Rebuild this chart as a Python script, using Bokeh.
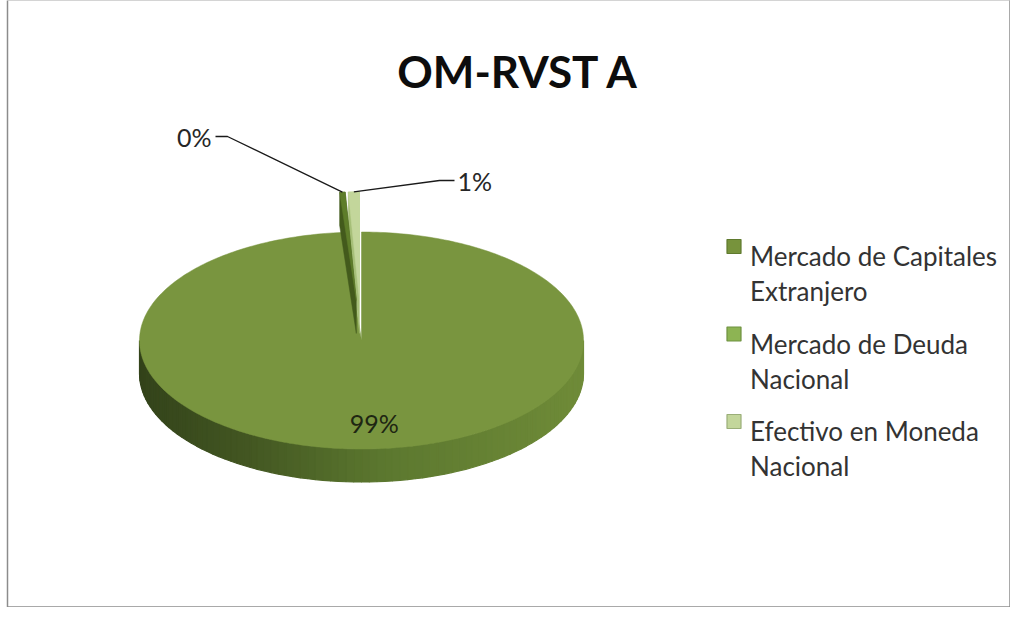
import math
from bokeh.plotting import figure
from bokeh.models import Range1d, ColumnDataSource
from bokeh.core.properties import value
from bokeh.embed import file_html
from bokeh.resources import INLINE

# ---------------- data ----------------
title = "OM-RVST A"
categories = ["Mercado de Capitales Extranjero", "Mercado de Deuda Nacional", "Efectivo en Moneda Nacional"]
legend_lines = [["Mercado de Capitales", "Extranjero"],
                ["Mercado de Deuda", "Nacional"],
                ["Efectivo en Moneda", "Nacional"]]
shares = [98.8, 0.4, 0.8]
labels = ["99%", "0%", "1%"]
colors = ["#77933C", "#8DB453", "#C3D69B"]
exploded = [False, True, True]

# ---------------- layout / style ----------------
W, H = 1010, 607
FONT = "Lato"
CX, CY, RX, RY, DEPTH = 369.0, 348.0, 222.0, 108.5, 33.0
EXPLODE = 0.37
top_shades = ["#79953F", "#5E7D2A", "#C3D69B"]
side_shades = [None, "#435A1C", "#A6BF78"]

p = figure(width=W, height=H, x_range=Range1d(8, 8 + W), y_range=Range1d(8 + H, 8),
           output_backend="svg", toolbar_location=None, min_border=0,
           x_axis_location=None, y_axis_location=None)
p.grid.visible = False
p.outline_line_color = None
p.background_fill_color = "white"
p.border_fill_color = "white"

# chart border
p.multi_line(xs=[[15, 15, 1017.5], [15, 1017.5], [1017.5, 1017.5]],
             ys=[[614.5, 7.5, 7.5], [614.5, 614.5], [7.5, 614.5]],
             line_color="#8C8C8C", line_width=1.5)


def proj(theta, f, dx=0.0, dy=0.0):
    t = math.radians(theta)
    return CX + f * RX * math.sin(t) + dx, CY - f * RY * math.cos(t) + dy


total = sum(shares)
starts, ends = [], []
acc = 0.0
for s in shares:
    starts.append(acc / total * 360.0)
    acc += s
    ends.append(acc / total * 360.0)


def arc_pts(a0, a1, dx=0.0, dy=0.0, step=1.0):
    n = max(2, int(abs(a1 - a0) / step) + 2)
    return [proj(a0 + (a1 - a0) * i / (n - 1), 1.0, dx, dy) for i in range(n)]


def mix(c1, c2, t):
    a = [int(c1[i:i + 2], 16) for i in (1, 3, 5)]
    b = [int(c2[i:i + 2], 16) for i in (1, 3, 5)]
    return "#%02x%02x%02x" % tuple(int(round(a[k] + (b[k] - a[k]) * t)) for k in range(3))


grad = [(0.0, "#6F8B38"), (0.45, "#5C782F"), (0.75, "#435722"), (1.0, "#33431A")]


def grad_color(t):
    for i in range(len(grad) - 1):
        t0, c0 = grad[i]
        t1, c1 = grad[i + 1]
        if t <= t1:
            return mix(c0, c1, (t - t0) / (t1 - t0))
    return grad[-1][1]


# ---- side of the big slice (front half) ----
sx, sy, sc = [], [], []
a = 90.0
step = 2.0
while a < 270.0 - 1e-9:
    a2 = min(a + step, 270.0)
    x1, y1 = proj(a, 1.0)
    x2, y2 = proj(a2, 1.0)
    sx.append([x1, x2, x2, x1])
    sy.append([y1, y2, y2 + DEPTH, y1 + DEPTH])
    xm = (x1 + x2) / 2.0
    sc.append(grad_color(1.0 - (xm - (CX - RX)) / (2 * RX)))
    a = a2
p.patches(xs=sx, ys=sy, fill_color=sc, line_color=sc, line_width=1.2)

# ---- top face of the big slice ----
for i in range(len(shares)):
    if exploded[i]:
        continue
    pts = [(CX, CY)] + arc_pts(starts[i], ends[i])
    p.patch([q[0] for q in pts], [q[1] for q in pts], fill_color=top_shades[i],
            line_color=top_shades[i], line_width=0.5)


def hull(points):
    pts = sorted(set(points))
    if len(pts) <= 2:
        return pts

    def cross(o, a_, b_):
        return (a_[0] - o[0]) * (b_[1] - o[1]) - (a_[1] - o[1]) * (b_[0] - o[0])
    lower, upper = [], []
    for q in pts:
        while len(lower) >= 2 and cross(lower[-2], lower[-1], q) <= 0:
            lower.pop()
        lower.append(q)
    for q in reversed(pts):
        while len(upper) >= 2 and cross(upper[-2], upper[-1], q) <= 0:
            upper.pop()
        upper.append(q)
    return lower[:-1] + upper[:-1]


# ---- exploded small slices ----
small = [i for i in range(len(shares)) if exploded[i]]
geo = {}
for i in small:
    mid = (starts[i] + ends[i]) / 2.0
    dx = EXPLODE * RX * math.sin(math.radians(mid))
    dy = -EXPLODE * RY * math.cos(math.radians(mid))
    tip = (CX + dx, CY + dy)
    top = [tip] + arc_pts(starts[i], ends[i], dx, dy, step=0.3)
    bot = [(q[0], q[1] + DEPTH) for q in top]
    geo[i] = (top, hull(top + bot), mid, dx, dy)

for i in reversed(small):
    top, h, mid, dx, dy = geo[i]
    p.patch([q[0] for q in h], [q[1] for q in h], fill_color=side_shades[i],
            line_color=side_shades[i], line_width=0.5)
for i in small:
    top, h, mid, dx, dy = geo[i]
    p.patch([q[0] for q in top], [q[1] for q in top], fill_color=top_shades[i],
            line_color=top_shades[i], line_width=0.5)

# ---- data labels ----
big = 0
mid_big = (starts[big] + ends[big]) / 2.0
lx, ly = proj(mid_big, 0.68)
p.text(x=[lx + 7], y=[ly + 9], text=[labels[big]], text_font=value(FONT),
       text_font_size="25px", text_color="#1E2612", text_align="center",
       text_baseline="alphabetic")

# leader lines + outside labels
label_pos = {1: (235.0, 144.0, 223.0, 219.0, "right"), 2: (447.0, 188.0, 462.0, 465.0, "left")}
for i in small:
    top, h, mid, dx, dy = geo[i]
    ax, ay = proj(mid, 1.0, dx, dy)
    bx, by, ex, tx, al = label_pos[i]
    p.line([ax, bx, ex], [ay, by, by], line_color="#1A1A1A", line_width=1.3)
    p.text(x=[tx], y=[by], text=[labels[i]], text_font=value(FONT), text_font_size="25px",
           text_color="#262626", text_align=al, text_baseline="alphabetic")

# ---- title ----
p.text(x=[526], y=[78], text=[title], text_font=value(FONT), text_font_size="44px",
       text_font_style="bold", text_color="#0D0D0D", text_align="center",
       text_baseline="alphabetic")

# ---- legend ----
LEG_X, LEG_Y0, LEG_DY, LINE_DY = 741.5, 254.0, 87.5, 35.0
leg_src = ColumnDataSource(dict(
    x=[LEG_X] * len(categories),
    y=[LEG_Y0 + k * LEG_DY for k in range(len(categories))],
    c=colors,
    lc=["#5F7A2E", "#6E9140", "#9AAE78"]))
p.scatter(x="x", y="y", source=leg_src, marker="square", size=14,
          fill_color="c", line_color="lc", line_width=1.2)
tx, ty, tt = [], [], []
for k, lines in enumerate(legend_lines):
    for j, t in enumerate(lines):
        tx.append(LEG_X + 16)
        ty.append(LEG_Y0 + k * LEG_DY + 9.5 + j * LINE_DY)
        tt.append(t)
p.text(x=tx, y=ty, text=tt, text_font=value(FONT), text_font_size="26px",
       text_color="#333333", text_align="left", text_baseline="alphabetic")

open("out.html", "w").write(file_html(p, INLINE))
